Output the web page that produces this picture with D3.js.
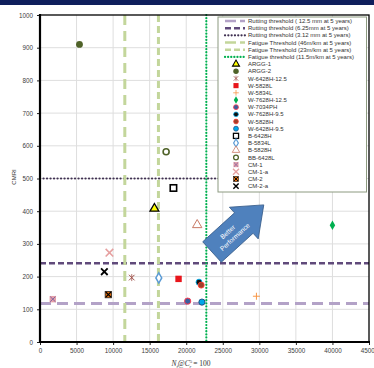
<!DOCTYPE html>
<html>
<head>
<meta charset="utf-8">
<script src="https://cdn.jsdelivr.net/npm/d3@7"></script>
<style>
  body { margin: 0; background: #fff; }
  svg { display: block; font-family: "Liberation Sans", Arial, sans-serif; }
</style>
</head>
<body>
<svg id="chart" width="374" height="368"></svg>
<script>
// threshold lines
const rutLabels = ["Rutting threshold ( 12.5 mm at 5 years)", "Rutting threshold (6.25mm at 5 years)", "Rutting threshold (3.12 mm at 5 years)"];
const rutValues = [118, 241, 500];
const fatLabels = ["Fatigue Threshold (46m/km at 5 years)", "Fatigue Threshold (23m/km at 5 years)", "Fatigue threshold (11.5m/km at 5 years)"];
const fatValues = [11600, 16200, 22750];

// mixes
const mixes = ["ARGG-1", "ARGG-2", "W-6428H-12.5", "W-5828L", "W-5834L", "W-7628H-12.5", "W-7034PH", "W-7628H-9.5",
  "W-5828H", "W-6428H-9.5", "B-6428H", "B-5834L", "B-5828H", "BB-6428L", "CM-1", "CM-1-a", "CM-2", "CM-2-a"];
const nfValues = [15650, 5400, 12550, 18950, 29600, 40000, 20200, 21750, 22050, 22150, 18250, 16250, 21500, 17250, 1750, 9500, 9350, 8800];
const cmriValues = [408, 910, 197, 193, 140, 357, 125, 183, 174, 122, 471, 196, 358, 582, 131, 273, 145, 215];

const xTicks = d3.range(0, 45001, 5000);
const yTicks = d3.range(0, 1001, 100);

const svg = d3.select("#chart");
const pLeft = 40, pRight = 369, pTop = 15, pBottom = 342;

const x = d3.scaleLinear().domain([0, 45000]).range([pLeft, pRight]);
const y = d3.scaleLinear().domain([0, 1000]).range([pBottom, pTop]);

// navy band on top
svg.append("rect").attr("x", 0).attr("y", 0).attr("width", 374).attr("height", 5).attr("fill", "#0f1f5c");

// grid
const grid = svg.append("g");
grid.selectAll(".gx").data(xTicks.slice(1, -1)).enter().append("line")
  .attr("x1", d => x(d)).attr("x2", d => x(d)).attr("y1", pTop).attr("y2", pBottom)
  .attr("stroke", "#dedede").attr("stroke-width", 1);
grid.selectAll(".gy").data(yTicks.slice(1, -1)).enter().append("line")
  .attr("y1", d => y(d)).attr("y2", d => y(d)).attr("x1", pLeft).attr("x2", pRight)
  .attr("stroke", "#dedede").attr("stroke-width", 1);

// style of each threshold line
const rutStyle = [
  {color: "#b3a2c7", width: 3, dash: "11,6"},
  {color: "#604a7b", width: 2.5, dash: "6,3"},
  {color: "#403152", width: 2.2, dash: "0.1,3.4", cap: "round"}
];
const fatStyle = [
  {color: "#c3d69b", width: 3, dash: "10,6"},
  {color: "#c3d69b", width: 3, dash: "7,4"},
  {color: "#00b050", width: 2.2, dash: "0.1,3", cap: "round"}
];

const lines = svg.append("g");
rutValues.forEach((v, i) => {
  lines.append("line")
    .attr("x1", pLeft).attr("x2", pRight).attr("y1", y(v)).attr("y2", y(v))
    .attr("stroke", rutStyle[i].color).attr("stroke-width", rutStyle[i].width)
    .attr("stroke-dasharray", rutStyle[i].dash).attr("stroke-linecap", rutStyle[i].cap || "butt");
});
fatValues.forEach((v, i) => {
  lines.append("line")
    .attr("x1", x(v)).attr("x2", x(v)).attr("y1", pTop).attr("y2", pBottom)
    .attr("stroke", fatStyle[i].color).attr("stroke-width", fatStyle[i].width)
    .attr("stroke-dasharray", fatStyle[i].dash).attr("stroke-linecap", fatStyle[i].cap || "butt");
});

// axes
const xAxis = svg.append("g").attr("transform", `translate(0,${pBottom})`)
  .call(d3.axisBottom(x).tickValues(xTicks).tickSize(3).tickPadding(4).tickFormat(d3.format("d")));
const yAxis = svg.append("g").attr("transform", `translate(${pLeft},0)`)
  .call(d3.axisLeft(y).tickValues(yTicks).tickSize(3).tickPadding(4).tickFormat(d3.format("d")));
[xAxis, yAxis].forEach(a => {
  a.select(".domain").remove();
  a.selectAll("line").attr("stroke", "#222");
  a.selectAll("text").attr("font-size", "6.3px").attr("fill", "#404040").attr("font-family", "Liberation Sans, Arial");
});

// frame
svg.append("rect").attr("x", pLeft).attr("y", pTop).attr("width", pRight - pLeft).attr("height", pBottom - pTop)
  .attr("fill", "none").attr("stroke", "#000").attr("stroke-width", 1.3);
svg.append("line").attr("x1", pLeft).attr("x2", pLeft).attr("y1", pTop - 1).attr("y2", pBottom + 1)
  .attr("stroke", "#000").attr("stroke-width", 2.2);
svg.append("line").attr("x1", pLeft - 1).attr("x2", pRight + 1).attr("y1", pBottom).attr("y2", pBottom)
  .attr("stroke", "#000").attr("stroke-width", 2);

// axis titles
svg.append("text").attr("transform", "translate(16,177) rotate(-90)")
  .attr("text-anchor", "middle").attr("font-size", "6px").attr("fill", "#333").text("CMRI");

const xt = svg.append("text").attr("x", 191).attr("y", 366).attr("text-anchor", "middle")
  .attr("font-size", "7.5px").attr("fill", "#333").attr("font-family", "Liberation Serif, serif");
xt.append("tspan").attr("font-style", "italic").text("N");
xt.append("tspan").attr("font-size", "5px").attr("dy", 1.5).attr("font-style", "italic").text("f");
xt.append("tspan").attr("dy", -1.5).attr("font-style", "italic").text("@C");
xt.append("tspan").attr("font-size", "4.8px").attr("dy", -3).text("5");
xt.append("tspan").attr("font-size", "4.8px").attr("dx", -2.6).attr("dy", 5).attr("font-style", "italic").text("r");
xt.append("tspan").attr("dy", -2).text(" = 100");

// marker drawing
const sym = (type, size) => d3.symbol().type(type).size(size)();
function drawMarker(g, i) {
  const name = mixes[i];
  switch (name) {
    case "ARGG-1":
      g.append("path").attr("d", sym(d3.symbolTriangle, 34)).attr("fill", "#ffff00").attr("stroke", "#000").attr("stroke-width", 1.3); break;
    case "ARGG-2":
      g.append("circle").attr("r", 3.4).attr("fill", "#4f6228"); break;
    case "W-6428H-12.5":
      g.append("path").attr("d", sym(d3.symbolTimes, 22)).attr("stroke", "#a0504a").attr("stroke-width", 1).attr("fill", "none");
      g.append("path").attr("d", "M0,-3.5V3.5").attr("stroke", "#a0504a").attr("stroke-width", 0.8); break;
    case "W-5828L":
      g.append("rect").attr("x", -3.2).attr("y", -3.2).attr("width", 6.4).attr("height", 6.4).attr("fill", "#e8151b"); break;
    case "W-5834L":
      g.append("path").attr("d", "M-3.5,0H3.5M0,-3.5V3.5").attr("stroke", "#f79646").attr("stroke-width", 1); break;
    case "W-7628H-12.5":
      g.append("path").attr("d", sym(d3.symbolDiamond, 26)).attr("fill", "#00b050"); break;
    case "W-7034PH":
      g.append("circle").attr("r", 3.1).attr("fill", "#3a5f9f").attr("stroke", "#ff3b4f").attr("stroke-width", 1); break;
    case "W-7628H-9.5":
      g.append("circle").attr("r", 3).attr("fill", "#111").attr("stroke", "#00b0f0").attr("stroke-width", 0.9); break;
    case "W-5828H":
      g.append("circle").attr("r", 3).attr("fill", "#a0402a").attr("stroke", "#ff3b30").attr("stroke-width", 0.9); break;
    case "W-6428H-9.5":
      g.append("circle").attr("r", 3.1).attr("fill", "#00a6e8").attr("stroke", "#1f497d").attr("stroke-width", 0.9); break;
    case "B-6428H":
      g.append("rect").attr("x", -3.2).attr("y", -3.2).attr("width", 6.4).attr("height", 6.4)
        .attr("fill", "#fff").attr("stroke", "#000").attr("stroke-width", 1.6); break;
    case "B-5834L":
      g.append("path").attr("d", sym(d3.symbolDiamond, 30)).attr("fill", "#fff").attr("stroke", "#5b9bd5").attr("stroke-width", 1.5); break;
    case "B-5828H":
      g.append("path").attr("d", sym(d3.symbolTriangle, 38)).attr("fill", "#fff").attr("stroke", "#c97a66").attr("stroke-width", 1); break;
    case "BB-6428L":
      g.append("circle").attr("r", 3).attr("fill", "#fff").attr("stroke", "#4f6228").attr("stroke-width", 1.6); break;
    case "CM-1":
      g.append("rect").attr("x", -3.2).attr("y", -3.2).attr("width", 6.4).attr("height", 6.4).attr("fill", "#e6a0a8");
      g.append("path").attr("d", "M-2.6,-2.6L2.6,2.6M-2.6,2.6L2.6,-2.6").attr("stroke", "#8064a2").attr("stroke-width", 1); break;
    case "CM-1-a":
      g.append("path").attr("d", "M-3.8,-3.8L3.8,3.8M-3.8,3.8L3.8,-3.8").attr("stroke", "#e6a0a0").attr("stroke-width", 1.6); break;
    case "CM-2":
      g.append("rect").attr("x", -3.2).attr("y", -3.2).attr("width", 6.4).attr("height", 6.4).attr("fill", "#e46c0a").attr("stroke", "#222").attr("stroke-width", 0.8);
      g.append("path").attr("d", "M-2.6,-2.6L2.6,2.6M-2.6,2.6L2.6,-2.6").attr("stroke", "#000").attr("stroke-width", 1.2); break;
    case "CM-2-a":
      g.append("path").attr("d", "M-3.3,-3.3L3.3,3.3M-3.3,3.3L3.3,-3.3").attr("stroke", "#000").attr("stroke-width", 1.8); break;
  }
}

// points
const pts = svg.append("g");
mixes.forEach((m, i) => {
  drawMarker(pts.append("g").attr("transform", `translate(${x(nfValues[i])},${y(cmriValues[i])})`), i);
});

// "Better Performance" arrow
const arrow = svg.append("g").attr("transform", "translate(212,252) rotate(-42.3)");
arrow.append("path")
  .attr("d", "M0,-13.8H43V-21.4L70,0L43,21.4V13.8H0Z")
  .attr("fill", "#4f81bd").attr("stroke", "#385d8a").attr("stroke-width", 0.8);
arrow.append("text").attr("x", 25).attr("y", -2).attr("text-anchor", "middle")
  .attr("font-size", "6.6px").attr("fill", "#fff").text("Better");
arrow.append("text").attr("x", 27).attr("y", 6.5).attr("text-anchor", "middle")
  .attr("font-size", "6.6px").attr("fill", "#fff").text("Performance");

// legend
const lg = svg.append("g");
lg.append("rect").attr("x", 218).attr("y", 17).attr("width", 148.5).attr("height", 175)
  .attr("fill", "#fff").attr("stroke", "#8c9a80").attr("stroke-width", 1);
const lineEntries = rutLabels.map((l, i) => ({label: l, style: rutStyle[i]}))
  .concat(fatLabels.map((l, i) => ({label: l, style: fatStyle[i]})));
const legendStyle = [
  {dash: "11,4"}, {dash: "6,3"}, {dash: "0.1,3.2"}, {dash: "11,4"}, {dash: "6,3"}, {dash: "0.1,3"}
];
const rowY = k => 21 + k * 7.18;
lineEntries.forEach((e, k) => {
  lg.append("line").attr("x1", 225).attr("x2", 245).attr("y1", rowY(k)).attr("y2", rowY(k))
    .attr("stroke", e.style.color).attr("stroke-width", Math.min(e.style.width, 2.5))
    .attr("stroke-dasharray", legendStyle[k].dash).attr("stroke-linecap", e.style.cap || "butt");
  lg.append("text").attr("x", 248).attr("y", rowY(k) + 2.1).attr("font-size", "6px").attr("fill", "#333").text(e.label);
});
mixes.forEach((m, i) => {
  const k = i + lineEntries.length;
  drawMarker(lg.append("g").attr("transform", `translate(236,${rowY(k)}) scale(0.8)`), i);
  lg.append("text").attr("x", 248).attr("y", rowY(k) + 2.1).attr("font-size", "6px").attr("fill", "#333").text(m);
});
</script>
</body>
</html>
